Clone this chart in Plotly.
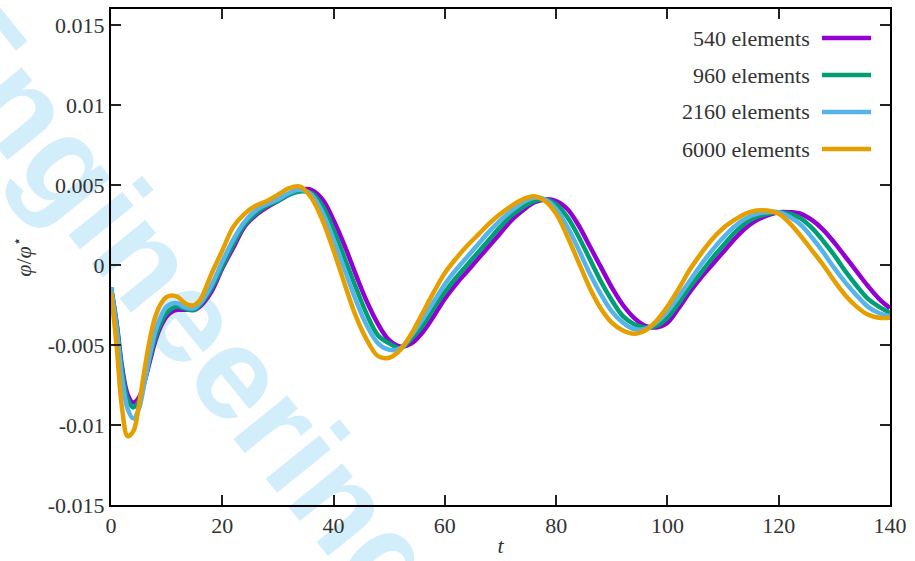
import plotly.graph_objects as go

# ---------------- data ----------------
t = [0, 1, 2, 3, 4, 5, 6, 7, 8, 9,
     10, 11, 12, 13, 14, 15, 16,
     18, 20, 22, 24, 26, 28, 30, 32, 34, 36,
     38, 40, 42, 44, 46, 48, 50, 52, 54, 56,
     58, 60, 62, 64, 66, 68, 70, 72, 74, 76,
     78, 80, 82, 84, 86, 88, 90, 92, 94, 96,
     98, 100, 102, 104, 106, 108, 110, 112, 114, 116,
     118, 120, 122, 124, 126, 128, 130, 132, 134, 136,
     138, 140]

phi_540 = [-0.0014, -0.0036, -0.0064, -0.0081, -0.0086, -0.0083, -0.0073, -0.0060, -0.0047, -0.0038,
           -0.0032, -0.0029, -0.0028, -0.0028, -0.0028, -0.0028, -0.0026,
           -0.0017, -0.0002, 0.0011, 0.0024, 0.0031, 0.0036, 0.0040, 0.0044, 0.0047, 0.0047,
           0.0041, 0.0028, 0.0012, -0.0006, -0.0023, -0.0037, -0.0047, -0.0051, -0.0049, -0.0042,
           -0.0032, -0.0021, -0.0012, -0.0004, 0.0004, 0.0012, 0.0020, 0.0028, 0.0034, 0.0039,
           0.0041, 0.0040, 0.0035, 0.0025, 0.0012, -0.0001, -0.0014, -0.0025, -0.0033, -0.0038,
           -0.0039, -0.0036, -0.0027, -0.0017, -0.0008, 0.0000, 0.0008, 0.0016, 0.0023, 0.0028,
           0.0031, 0.0033, 0.0033, 0.0032, 0.0028, 0.0022, 0.0014, 0.0005, -0.0004, -0.0013,
           -0.0021, -0.0027]

phi_960 = [-0.0014, -0.0037, -0.0066, -0.0084, -0.0089, -0.0085, -0.0073, -0.0058, -0.0045, -0.0036,
           -0.0030, -0.0027, -0.0026, -0.0027, -0.0028, -0.0028, -0.0025,
           -0.0015, -0.0001, 0.0013, 0.0025, 0.0032, 0.0037, 0.0040, 0.0044, 0.0046, 0.0045,
           0.0037, 0.0022, 0.0004, -0.0014, -0.0031, -0.0044, -0.0049, -0.0052, -0.0046, -0.0038,
           -0.0027, -0.0017, -0.0008, 0.0000, 0.0008, 0.0016, 0.0024, 0.0031, 0.0036, 0.0040,
           0.0041, 0.0038, 0.0030, 0.0018, 0.0004, -0.0010, -0.0022, -0.0032, -0.0037, -0.0039,
           -0.0038, -0.0033, -0.0024, -0.0014, -0.0005, 0.0004, 0.0012, 0.0020, 0.0026, 0.0030,
           0.0032, 0.0033, 0.0032, 0.0029, 0.0023, 0.0015, 0.0006, -0.0004, -0.0013, -0.0021,
           -0.0026, -0.0030]

phi_2160 = [-0.0014, -0.0039, -0.0071, -0.0090, -0.0096, -0.0090, -0.0074, -0.0056, -0.0041, -0.0032,
            -0.0026, -0.0024, -0.0024, -0.0026, -0.0027, -0.0027, -0.0024,
            -0.0013, 0.0002, 0.0016, 0.0027, 0.0034, 0.0038, 0.0041, 0.0045, 0.0047, 0.0044,
            0.0033, 0.0016, -0.0003, -0.0022, -0.0038, -0.0049, -0.0053, -0.0052, -0.0044, -0.0034,
            -0.0023, -0.0012, -0.0003, 0.0005, 0.0013, 0.0021, 0.0028, 0.0034, 0.0039, 0.0042,
            0.0041, 0.0035, 0.0024, 0.0010, -0.0005, -0.0018, -0.0029, -0.0036, -0.0040, -0.0040,
            -0.0036, -0.0029, -0.0020, -0.0010, 0.0000, 0.0009, 0.0017, 0.0024, 0.0029, 0.0032,
            0.0033, 0.0033, 0.0030, 0.0025, 0.0017, 0.0008, -0.0002, -0.0011, -0.0019, -0.0026,
            -0.0030, -0.0032]

phi_6000 = [-0.0017, -0.0050, -0.0090, -0.0107, -0.0104, -0.0088, -0.0066, -0.0046, -0.0032, -0.0024,
            -0.0020, -0.0019, -0.0020, -0.0023, -0.0025, -0.0025, -0.0022,
            -0.0006, 0.0009, 0.0024, 0.0032, 0.0037, 0.0040, 0.0044, 0.0048, 0.0049, 0.0042,
            0.0028, 0.0009, -0.0012, -0.0032, -0.0047, -0.0057, -0.0058, -0.0053, -0.0043, -0.0030,
            -0.0017, -0.0005, 0.0004, 0.0012, 0.0019, 0.0026, 0.0032, 0.0037, 0.0041, 0.0043,
            0.0040, 0.0032, 0.0018, 0.0002, -0.0014, -0.0027, -0.0036, -0.0041, -0.0043, -0.0041,
            -0.0035, -0.0026, -0.0015, -0.0003, 0.0007, 0.0016, 0.0023, 0.0028, 0.0032, 0.0034,
            0.0034, 0.0032, 0.0026, 0.0018, 0.0009, 0.0000, -0.0010, -0.0019, -0.0026, -0.0031,
            -0.0033, -0.0033]

series_names = ["540 elements", "960 elements", "2160 elements", "6000 elements"]
series_values = [phi_540, phi_960, phi_2160, phi_6000]

x_ticks = [0, 20, 40, 60, 80, 100, 120, 140]
y_ticks = [-0.015, -0.01, -0.005, 0, 0.005, 0.01, 0.015]
y_ticklabels = ["-0.015", "-0.01", "-0.005", "0", "0.005", "0.01", "0.015"]

watermark = "Engineering"

# ---------------- style ----------------
colors = ["#9400d3", "#009e73", "#56b4e9", "#e69f00"]
FONT = "Liberation Serif, DejaVu Serif, serif"
TXT = "#333333"
FS = 22

W, H = 915, 561
ML, MR, MT, MB = 111, 25, 9, 56
PW, PH = W - ML - MR, H - MT - MB

fig = go.Figure()
for name, vals, col in zip(series_names, series_values, colors):
    fig.add_trace(go.Scatter(
        x=t, y=vals, name=name, mode="lines",
        line=dict(color=col, width=4.5, shape="spline", smoothing=1.0),
        showlegend=False,
    ))

def px_to_paper(px, py):
    return (px - ML) / PW, (H - MB - py) / PH

shapes = []
annotations = []

# watermark (behind the curves)
cx, cy = px_to_paper(190, 294)
shapes.append(dict(
    type="rect", xref="paper", yref="paper",
    x0=cx - 0.01, x1=cx + 0.01, y0=cy - 0.01, y1=cy + 0.01,
    line=dict(width=0), fillcolor="rgba(0,0,0,0)", layer="below",
    label=dict(text=watermark, textangle=51, textposition="middle center",
               font=dict(family="Liberation Sans, Arial, sans-serif", size=131,
                         color="#d3eefb", weight="bold")),
))

# manual legend: text right-aligned, line sample on the right
row_y = [38, 75, 112, 149]
for name, col, ry in zip(series_names, colors, row_y):
    xa, ya = px_to_paper(812, ry)
    annotations.append(dict(
        xref="paper", yref="paper", x=xa, y=ya, text=name, showarrow=False,
        xanchor="right", yanchor="middle",
        font=dict(family=FONT, size=FS, color=TXT),
    ))
    x0, y0 = px_to_paper(822, ry)
    x1, _ = px_to_paper(871, ry)
    shapes.append(dict(type="line", xref="paper", yref="paper",
                       x0=x0, x1=x1, y0=y0, y1=y0,
                       line=dict(color=col, width=4.5)))

fig.update_layout(
    width=W, height=H,
    margin=dict(l=ML, r=MR, t=MT, b=MB, autoexpand=False),
    paper_bgcolor="white",
    plot_bgcolor="rgba(0,0,0,0)",
    font=dict(family=FONT, size=FS, color=TXT),
    shapes=shapes,
    annotations=annotations,
    xaxis=dict(
        range=[0, 140], tickvals=x_ticks, automargin=False,
        ticks="inside", ticklen=10, tickwidth=1.5, tickcolor="#222",
        showline=True, linewidth=2, linecolor="black", mirror="ticks",
        showgrid=False, zeroline=False,
        tickfont=dict(family=FONT, size=FS, color=TXT),
        title=dict(text="<i>t</i>", font=dict(family=FONT, size=FS, color=TXT), standoff=0),
    ),
    yaxis=dict(
        range=[-0.015, 0.016], tickvals=y_ticks, ticktext=y_ticklabels, automargin=False,
        ticks="inside", ticklen=10, tickwidth=1.5, tickcolor="#222",
        showline=True, linewidth=2, linecolor="black", mirror="ticks",
        showgrid=False, zeroline=False,
        tickfont=dict(family=FONT, size=FS, color=TXT),
        title=dict(text="<i>φ</i>/<i>φ</i><sup>⋆</sup>", font=dict(family=FONT, size=FS, color=TXT), standoff=10),
    ),
)

fig.write_html("out.html", config={"displayModeBar": False},
               post_script="document.body.style.margin='0px';")
